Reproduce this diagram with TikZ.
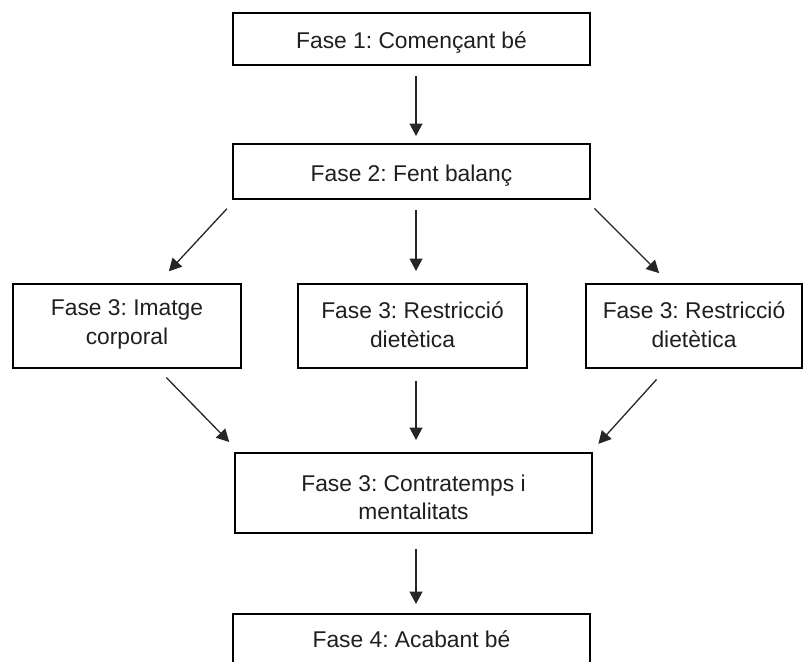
\documentclass[tikz,border=0pt]{standalone}
\usepackage{fontspec}
\setmainfont{Liberation Sans}
\usetikzlibrary{arrows.meta,calc}
\frenchspacing
\begin{document}
\begin{tikzpicture}[x=1pt,y=-1pt,
  box/.style={draw=black,line width=2pt,inner sep=0pt},
  lbl/.style={inner sep=0pt,align=center,
    font=\fontsize{22.8}{28.5}\selectfont\frenchspacing,text=black!88},
  conn/.style={line width=1.3pt,draw=black!85,
    -{Triangle[length=12.5pt,width=13pt]}}]
\clip (0,0) rectangle (805,661);
\fill[white] (0,0) rectangle (805,661);
\node[box,minimum width=357pt,minimum height=52pt] (b1) at (411.5,39) {};
\node[box,minimum width=357pt,minimum height=55pt] (b2) at (411.5,171.5) {};
\node[box,minimum width=228pt,minimum height=84pt] (b3a) at (127,326) {};
\node[box,minimum width=229pt,minimum height=84pt] (b3b) at (412.5,326) {};
\node[box,minimum width=216pt,minimum height=84pt] (b3c) at (694,326) {};
\node[box,minimum width=357pt,minimum height=80pt] (b4) at (413.5,493) {};
\node[box,minimum width=357pt,minimum height=52pt] (b5) at (411.5,640) {};
\node[lbl] (t1) at ($(b1)+(0,4)$) {Fase 1: Començant bé};
\node[lbl] (t2) at ($(b2)+(0,4.5)$) {Fase 2: Fent balanç};
\node[lbl] (t3a) at ($(b3a)+(0,-1.5)$) {Fase 3: Imatge\\corporal};
\node[lbl] (t3b) at ($(b3b)+(0,-1.5)$) {Fase 3: Restricció\\dietètica};
\node[lbl] (t3c) at ($(b3c)+(0,-1.5)$) {Fase 3: Restricció\\dietètica};
\node[lbl] (t4) at ($(b4)+(0,4.5)$) {Fase 3: Contratemps i\\mentalitats};
\node[lbl] (t5) at ($(b5)+(0,-1)$) {Fase 4: Acabant bé};
\draw[conn,shorten <=10pt,shorten >=7pt] ($(b1.south)+(4.5,0)$) -- ($(b2.north)+(4.5,0)$);
\draw[conn,shorten <=12pt,shorten >=16pt] ($(b2.south west)+(3,0)$) -- ($(b3a.north)+(31,0)$);
\draw[conn,shorten <=10pt,shorten >=12pt] ($(b2.south)+(4.5,0)$) -- ($(b3b.north)+(3.5,0)$);
\draw[conn,shorten <=12pt,shorten >=14pt] ($(b2.south east)+(-5,0)$) -- ($(b3c.north)+(-25,0)$);
\draw[conn,shorten <=12pt,shorten >=14pt] ($(b3a.south)+(31,0)$) -- ($(b4.north west)+(5,0)$);
\draw[conn,shorten <=12pt,shorten >=12pt] ($(b3b.south)+(3.5,0)$) -- ($(b4.north)+(2.5,0)$);
\draw[conn,shorten <=14pt,shorten >=11pt] ($(b3c.south)+(-28,0)$) -- ($(b4.north east)+(-2,0)$);
\draw[conn,shorten <=15pt,shorten >=9pt] ($(b4.south)+(2.5,0)$) -- ($(b5.north)+(4.5,0)$);
\end{tikzpicture}
\end{document}
